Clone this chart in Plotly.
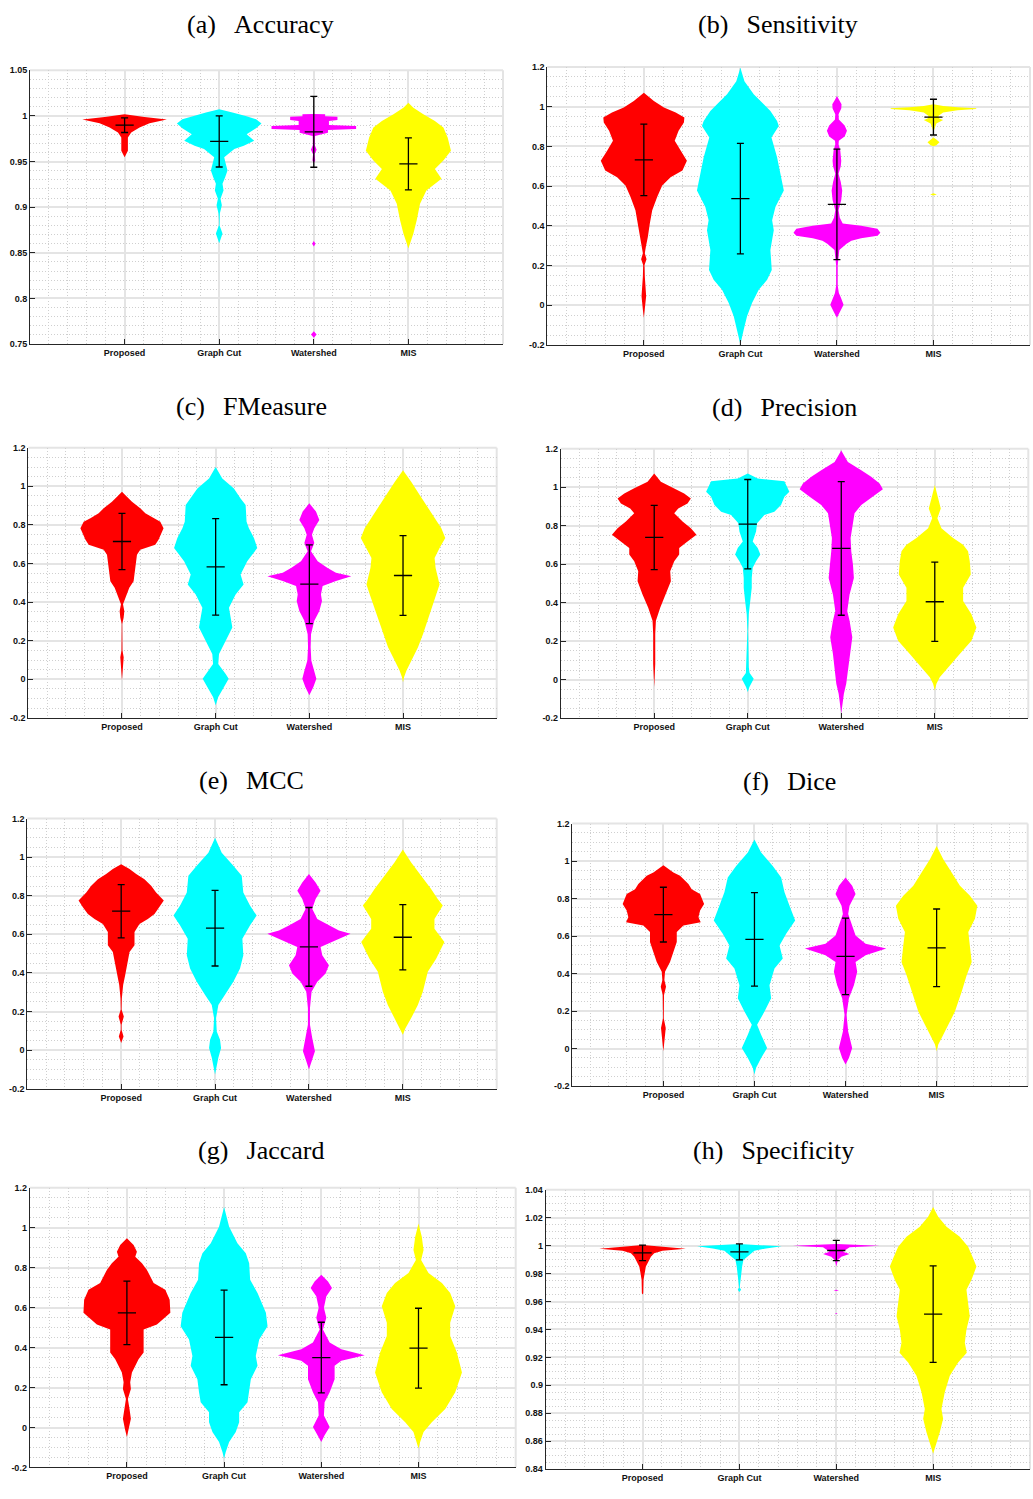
import plotly.graph_objects as go

W, H = 1033, 1499

categories = ["Proposed", "Graph Cut", "Watershed", "MIS"]
colors = ["#ff0000", "#00ffff", "#ff00ff", "#ffff00"]

# ---------------- (a) Accuracy ----------------
a_prop_y = [0.9546, 0.9618, 0.969, 0.9764, 0.9818, 0.9872, 0.992, 0.996, 0.9989, 1.0017]
a_prop_w = [0.0, 0.035, 0.035, 0.035, 0.07, 0.158, 0.264, 0.447, 0.21, 0.0]
a_gc_y = [0.8603, 0.8712, 0.8802, 0.8857, 0.8929, 0.9020, 0.9092, 0.9183, 0.9256, 0.9328, 0.9401, 0.9473,
          0.9546, 0.9637, 0.9673, 0.9727, 0.9800, 0.9865, 0.9916, 0.9963, 0.9999, 1.0036, 1.0072]
a_gc_w = [0.0, 0.035, 0.003, 0.003, 0.007, 0.028, 0.014, 0.046, 0.035, 0.063, 0.088, 0.07,
          0.053, 0.16, 0.26, 0.37, 0.29, 0.39, 0.447, 0.39, 0.28, 0.14, 0.0]
a_ws_y = [0.757, 0.7605, 0.764, 0.857, 0.860, 0.863, 0.948, 0.951, 0.958, 0.963, 0.968, 0.978,
          0.9815, 0.9845, 0.9855, 0.9890, 0.9900, 0.9945, 0.9955, 0.9990, 0.9995, 1.0017, 1.0020]
a_ws_w = [0.0, 0.03, 0.0, 0.0, 0.018, 0.0, 0.0, 0.015, 0.008, 0.03, 0.01, 0.012,
          0.15, 0.15, 0.447, 0.447, 0.16, 0.16, 0.25, 0.25, 0.12, 0.12, 0.0]
a_mis_y = [0.8548, 0.8603, 0.8712, 0.8857, 0.9038, 0.9183, 0.931, 0.9419, 0.951, 0.9618, 0.9764,
           0.9872, 0.9945, 1.0017, 1.009, 1.0144]
a_mis_w = [0.0, 0.018, 0.053, 0.088, 0.123, 0.19, 0.35, 0.28, 0.37, 0.45, 0.415,
           0.37, 0.28, 0.158, 0.053, 0.0]
a_mean = [0.9898, 0.972, 0.9825, 0.9475]
a_std = [0.008, 0.028, 0.0388, 0.0285]

# ---------------- (b) Sensitivity ----------------
b_prop_y = [-0.063, -0.022, 0.045, 0.145, 0.203, 0.232, 0.262, 0.295, 0.345, 0.412, 0.478, 0.545, 0.603,
            0.645, 0.678, 0.728, 0.778, 0.828, 0.878, 0.92, 0.945, 0.97, 0.995, 1.028, 1.07]
b_prop_w = [0.0, 0.01, 0.024, 0.01, 0.007, 0.028, 0.01, 0.021, 0.042, 0.062, 0.087, 0.138, 0.19,
            0.277, 0.40, 0.446, 0.38, 0.32, 0.36, 0.415, 0.42, 0.33, 0.208, 0.104, 0.0]
b_gc_y = [-0.197, -0.172, -0.122, -0.055, 0.012, 0.078, 0.128, 0.178, 0.278, 0.378, 0.428, 0.495, 0.578,
          0.678, 0.745, 0.845, 0.903, 0.928, 0.978, 1.012, 1.062, 1.128, 1.195]
b_gc_w = [0.0, 0.01, 0.035, 0.069, 0.121, 0.19, 0.277, 0.325, 0.311, 0.346, 0.329, 0.363, 0.45,
          0.408, 0.38, 0.322, 0.398, 0.38, 0.311, 0.242, 0.138, 0.042, 0.0]
b_ws_y = [-0.063, -0.038, 0.003, 0.04, 0.062, 0.1, 0.2, 0.278, 0.29, 0.31, 0.325, 0.338, 0.35, 0.365,
          0.385, 0.40, 0.412, 0.44, 0.478, 0.53, 0.578, 0.62, 0.662, 0.70, 0.728, 0.778, 0.81, 0.828,
          0.85, 0.878, 0.905, 0.935, 0.962, 0.99, 1.012, 1.035, 1.053]
b_ws_w = [0.0, 0.028, 0.069, 0.04, 0.02, 0.008, 0.008, 0.025, 0.05, 0.1, 0.15, 0.25, 0.42, 0.45,
          0.42, 0.25, 0.06, 0.03, 0.017, 0.045, 0.055, 0.04, 0.017, 0.04, 0.045, 0.035, 0.017, 0.02,
          0.08, 0.104, 0.08, 0.02, 0.017, 0.045, 0.048, 0.02, 0.0]
b_mis_y = [0.552, 0.558, 0.564, 0.80, 0.805, 0.82, 0.835, 0.845, 0.88, 0.895, 0.915, 0.925, 0.932,
           0.94, 0.953, 0.97, 0.982, 0.988, 0.992, 0.997, 1.003, 1.012]
b_mis_w = [0.0, 0.035, 0.0, 0.0, 0.03, 0.062, 0.03, 0.0, 0.005, 0.015, 0.03, 0.07, 0.1,
           0.06, 0.05, 0.1, 0.25, 0.443, 0.443, 0.25, 0.1, 0.0]
b_mean = [0.732, 0.537, 0.508, 0.947]
b_std = [0.18, 0.278, 0.278, 0.09]

# ---------------- (c) FMeasure ----------------
c_prop_y = [-0.006, 0.028, 0.114, 0.15, 0.2, 0.286, 0.32, 0.354, 0.389, 0.423, 0.474, 0.508, 0.577,
            0.646, 0.672, 0.697, 0.723, 0.757, 0.783, 0.817, 0.835, 0.86, 0.886, 0.92, 0.946, 0.972]
c_prop_w = [0.0, 0.007, 0.018, 0.005, 0.002, 0.003, 0.018, 0.025, 0.011, 0.036, 0.078, 0.124, 0.142,
            0.16, 0.195, 0.355, 0.39, 0.42, 0.444, 0.409, 0.337, 0.249, 0.195, 0.107, 0.053, 0.0]
c_gc_y = [-0.135, -0.092, -0.04, 0.003, 0.028, 0.08, 0.131, 0.2, 0.268, 0.32, 0.371, 0.44, 0.491,
          0.543, 0.612, 0.68, 0.732, 0.783, 0.817, 0.903, 0.937, 0.989, 1.04, 1.1]
c_gc_w = [0.0, 0.028, 0.089, 0.139, 0.107, 0.028, 0.036, 0.107, 0.178, 0.16, 0.142, 0.213, 0.298,
          0.266, 0.337, 0.444, 0.409, 0.355, 0.33, 0.32, 0.266, 0.195, 0.071, 0.0]
c_ws_y = [-0.083, -0.04, 0.003, 0.045, 0.097, 0.166, 0.234, 0.303, 0.354, 0.406, 0.44, 0.483, 0.509,
          0.534, 0.552, 0.577, 0.612, 0.663, 0.706, 0.749, 0.783, 0.826, 0.869, 0.912]
c_ws_w = [0.0, 0.043, 0.075, 0.053, 0.021, 0.014, 0.018, 0.053, 0.107, 0.135, 0.124, 0.142, 0.284,
          0.448, 0.284, 0.195, 0.089, 0.018, 0.053, 0.028, 0.053, 0.107, 0.071, 0.0]
c_mis_y = [-0.015, 0.011, 0.045, 0.097, 0.166, 0.234, 0.337, 0.44, 0.491, 0.577, 0.629, 0.68, 0.732,
           0.783, 0.835, 0.886, 0.955, 1.023, 1.083]
c_mis_w = [0.0, 0.011, 0.036, 0.089, 0.16, 0.213, 0.284, 0.355, 0.39, 0.348, 0.337, 0.39, 0.451,
           0.409, 0.337, 0.266, 0.178, 0.089, 0.0]
c_mean = [0.714, 0.583, 0.493, 0.538]
c_std = [0.146, 0.25, 0.204, 0.207]

# ---------------- (d) Precision ----------------
d_prop_y = [-0.038, -0.004, 0.082, 0.237, 0.306, 0.374, 0.443, 0.512, 0.564, 0.615, 0.65, 0.684, 0.718,
            0.753, 0.787, 0.822, 0.865, 0.89, 0.916, 0.942, 0.968, 0.994, 1.028, 1.071]
d_prop_w = [0.0, 0.004, 0.011, 0.011, 0.018, 0.064, 0.125, 0.178, 0.171, 0.214, 0.267, 0.267, 0.356,
            0.452, 0.392, 0.303, 0.214, 0.257, 0.356, 0.392, 0.32, 0.214, 0.071, 0.0]
d_gc_y = [-0.064, -0.038, 0.005, 0.035, 0.065, 0.254, 0.34, 0.409, 0.478, 0.529, 0.581, 0.615, 0.65,
          0.684, 0.718, 0.77, 0.813, 0.856, 0.873, 0.908, 0.951, 0.976, 1.031, 1.045, 1.071]
d_gc_w = [0.0, 0.018, 0.064, 0.02, 0.011, 0.004, 0.011, 0.028, 0.043, 0.043, 0.053, 0.089, 0.135,
          0.107, 0.053, 0.089, 0.1, 0.178, 0.285, 0.356, 0.392, 0.445, 0.392, 0.107, 0.0]
d_ws_y = [-0.176, -0.142, -0.073, -0.021, 0.048, 0.134, 0.22, 0.306, 0.357, 0.443, 0.529, 0.598, 0.667,
          0.736, 0.804, 0.865, 0.908, 0.951, 0.99, 1.019, 1.054, 1.088, 1.131, 1.191]
d_ws_w = [0.0, 0.011, 0.028, 0.053, 0.071, 0.089, 0.118, 0.089, 0.064, 0.089, 0.135, 0.125, 0.107,
          0.1, 0.125, 0.142, 0.214, 0.338, 0.445, 0.41, 0.32, 0.214, 0.071, 0.0]
d_mis_y = [-0.056, -0.021, 0.013, 0.065, 0.134, 0.202, 0.271, 0.34, 0.409, 0.478, 0.546, 0.615, 0.667,
           0.701, 0.736, 0.787, 0.839, 0.89, 0.942, 1.011]
d_mis_w = [0.0, 0.018, 0.053, 0.142, 0.267, 0.392, 0.445, 0.392, 0.303, 0.303, 0.385, 0.374, 0.356,
           0.303, 0.196, 0.071, 0.028, 0.064, 0.036, 0.0]
d_mean = [0.739, 0.808, 0.682, 0.405]
d_std = [0.167, 0.232, 0.347, 0.206]

# ---------------- (e) MCC ----------------
e_prop_y = [0.037, 0.071, 0.105, 0.131, 0.174, 0.21, 0.268, 0.337, 0.389, 0.44, 0.509, 0.543, 0.612,
            0.654, 0.68, 0.706, 0.74, 0.775, 0.817, 0.852, 0.886, 0.912, 0.938, 0.963]
e_prop_w = [0.0, 0.025, 0.004, 0.004, 0.028, 0.004, 0.007, 0.021, 0.043, 0.064, 0.089, 0.142, 0.142,
            0.195, 0.284, 0.355, 0.408, 0.454, 0.372, 0.319, 0.248, 0.16, 0.089, 0.0]
e_gc_y = [-0.126, -0.092, -0.04, 0.011, 0.054, 0.097, 0.166, 0.234, 0.286, 0.354, 0.423, 0.491, 0.577,
          0.646, 0.697, 0.749, 0.817, 0.903, 0.955, 1.023, 1.1]
e_gc_w = [0.0, 0.011, 0.035, 0.064, 0.053, 0.018, 0.011, 0.035, 0.106, 0.195, 0.266, 0.301, 0.291,
          0.372, 0.443, 0.372, 0.301, 0.284, 0.195, 0.071, 0.0]
e_ws_y = [-0.1, -0.058, -0.006, 0.063, 0.131, 0.217, 0.303, 0.354, 0.397, 0.44, 0.491, 0.534, 0.569,
          0.603, 0.62, 0.646, 0.68, 0.732, 0.783, 0.826, 0.869, 0.912]
e_ws_w = [0.0, 0.028, 0.064, 0.035, 0.011, 0.011, 0.028, 0.089, 0.177, 0.213, 0.142, 0.124, 0.284,
          0.443, 0.319, 0.213, 0.089, 0.035, 0.071, 0.124, 0.071, 0.0]
e_mis_y = [0.08, 0.114, 0.166, 0.234, 0.303, 0.406, 0.474, 0.56, 0.629, 0.68, 0.749, 0.783, 0.835,
           0.903, 0.972, 1.04]
e_mis_w = [0.0, 0.028, 0.089, 0.16, 0.213, 0.266, 0.355, 0.443, 0.337, 0.337, 0.426, 0.372, 0.301,
           0.195, 0.089, 0.0]
e_mean = [0.72, 0.632, 0.535, 0.585]
e_std = [0.138, 0.196, 0.204, 0.169]

# ---------------- (f) Dice ----------------
f_prop_y = [-0.015, 0.038, 0.109, 0.162, 0.285, 0.33, 0.365, 0.409, 0.462, 0.515, 0.568, 0.621, 0.656,
            0.674, 0.7, 0.736, 0.771, 0.824, 0.85, 0.877, 0.921, 0.939, 0.978]
f_prop_w = [0.0, 0.011, 0.026, 0.004, 0.007, 0.029, 0.011, 0.018, 0.073, 0.11, 0.147, 0.147, 0.22,
            0.41, 0.385, 0.403, 0.447, 0.403, 0.311, 0.275, 0.183, 0.11, 0.0]
f_gc_y = [-0.138, -0.103, -0.05, 0.003, 0.074, 0.127, 0.197, 0.268, 0.338, 0.427, 0.48, 0.55, 0.612,
          0.683, 0.762, 0.833, 0.912, 0.974, 1.045, 1.115]
f_gc_w = [0.0, 0.018, 0.073, 0.139, 0.073, 0.029, 0.11, 0.183, 0.165, 0.22, 0.311, 0.275, 0.348,
          0.447, 0.385, 0.33, 0.293, 0.201, 0.073, 0.0]
f_ws_y = [-0.085, -0.05, 0.003, 0.091, 0.18, 0.268, 0.338, 0.409, 0.462, 0.497, 0.533, 0.559, 0.603,
          0.656, 0.718, 0.762, 0.824, 0.868, 0.912]
f_ws_w = [0.0, 0.037, 0.073, 0.029, 0.011, 0.037, 0.092, 0.128, 0.11, 0.22, 0.447, 0.22, 0.11,
          0.073, 0.029, 0.044, 0.11, 0.073, 0.0]
f_mis_y = [-0.015, 0.021, 0.056, 0.127, 0.197, 0.303, 0.391, 0.462, 0.55, 0.621, 0.692, 0.762, 0.815,
           0.868, 0.939, 1.009, 1.08]
f_mis_w = [0.0, 0.018, 0.055, 0.128, 0.201, 0.275, 0.33, 0.385, 0.366, 0.348, 0.421, 0.447, 0.366,
           0.256, 0.165, 0.073, 0.0]
f_mean = [0.714, 0.582, 0.491, 0.537]
f_std = [0.146, 0.249, 0.204, 0.207]

# ---------------- (g) Jaccard ----------------
g_prop_y = [-0.048, -0.006, 0.044, 0.093, 0.143, 0.193, 0.226, 0.276, 0.342, 0.375, 0.441, 0.491, 0.516,
            0.574, 0.64, 0.69, 0.723, 0.789, 0.822, 0.855, 0.88, 0.913, 0.947]
g_prop_w = [0.0, 0.021, 0.041, 0.027, 0.01, 0.041, 0.034, 0.052, 0.12, 0.172, 0.172, 0.172, 0.309,
            0.447, 0.44, 0.395, 0.275, 0.206, 0.155, 0.086, 0.103, 0.069, 0.0]
g_gc_y = [-0.155, -0.122, -0.072, -0.023, 0.027, 0.077, 0.126, 0.176, 0.242, 0.309, 0.358, 0.441, 0.507,
          0.574, 0.673, 0.739, 0.822, 0.872, 0.922, 1.005, 1.104]
g_gc_w = [0.0, 0.017, 0.052, 0.12, 0.155, 0.155, 0.241, 0.258, 0.275, 0.344, 0.326, 0.361, 0.447,
          0.43, 0.344, 0.268, 0.258, 0.223, 0.137, 0.052, 0.0]
g_ws_y = [-0.072, -0.039, 0.002, 0.06, 0.126, 0.176, 0.242, 0.309, 0.334, 0.362, 0.392, 0.425, 0.491,
          0.549, 0.599, 0.657, 0.698, 0.731, 0.764]
g_ws_w = [0.0, 0.034, 0.086, 0.027, 0.034, 0.086, 0.137, 0.137, 0.206, 0.447, 0.206, 0.086, 0.017,
          0.052, 0.027, 0.052, 0.11, 0.069, 0.0]
g_mis_y = [-0.105, -0.072, -0.023, 0.027, 0.093, 0.176, 0.276, 0.375, 0.458, 0.524, 0.607, 0.673, 0.723,
           0.773, 0.839, 0.889, 0.955, 1.021]
g_mis_w = [0.0, 0.017, 0.052, 0.137, 0.275, 0.378, 0.447, 0.395, 0.326, 0.326, 0.378, 0.326, 0.241,
           0.103, 0.027, 0.052, 0.034, 0.0]
g_mean = [0.574, 0.451, 0.35, 0.397]
g_std = [0.159, 0.237, 0.177, 0.2]

# ---------------- (h) Specificity ----------------
h_prop_y = [0.965, 0.966, 0.9755, 0.9803, 0.985, 0.9898, 0.9921, 0.9945, 0.9964, 0.9978, 0.9992, 1.0004]
h_prop_w = [0.0, 0.007, 0.01, 0.021, 0.034, 0.069, 0.086, 0.12, 0.206, 0.447, 0.206, 0.0]
h_gc_y = [0.9668, 0.9684, 0.97, 0.9732, 0.9779, 0.985, 0.9898, 0.9933, 0.9964, 0.998, 0.9995, 1.0011]
h_gc_w = [0.0, 0.017, 0.003, 0.007, 0.017, 0.028, 0.041, 0.103, 0.155, 0.275, 0.437, 0.0]
h_ws_y = [0.951, 0.9514, 0.9518, 0.9675, 0.968, 0.9685, 0.985, 0.9874, 0.9898, 0.9921, 0.994, 0.9957,
          0.9988, 0.99995, 1.0011]
h_ws_w = [0.0, 0.014, 0.0, 0.0, 0.028, 0.0, 0.0, 0.007, 0.017, 0.052, 0.137, 0.069,
          0.137, 0.447, 0.0]
h_mis_y = [0.851, 0.857, 0.8665, 0.876, 0.8831, 0.895, 0.9068, 0.9163, 0.9234, 0.9305, 0.94, 0.9495,
           0.959, 0.9684, 0.9755, 0.985, 0.9921, 0.9992, 1.0064, 1.0135, 1.0206, 1.0277]
h_mis_w = [0.0, 0.028, 0.069, 0.103, 0.086, 0.12, 0.172, 0.258, 0.347, 0.327, 0.344, 0.378,
           0.361, 0.344, 0.396, 0.447, 0.406, 0.361, 0.275, 0.138, 0.052, 0.0]
h_mean = [0.9948, 0.9955, 0.9965, 0.951]
h_std = [0.0055, 0.0057, 0.0072, 0.0345]

# ---------------- tick labels ----------------
acc_ticks = [0.75, 0.8, 0.85, 0.9, 0.95, 1.0, 1.05]
acc_ticktext = ["0.75", "0.8", "0.85", "0.9", "0.95", "1", "1.05"]
std_ticks = [-0.2, 0.0, 0.2, 0.4, 0.6, 0.8, 1.0, 1.2]
std_ticktext = ["-0.2", "0", "0.2", "0.4", "0.6", "0.8", "1", "1.2"]
spec_ticks = [0.84, 0.86, 0.88, 0.9, 0.92, 0.94, 0.96, 0.98, 1.0, 1.02, 1.04]
spec_ticktext = ["0.84", "0.86", "0.88", "0.9", "0.92", "0.94", "0.96", "0.98", "1", "1.02", "1.04"]

SEP = "\u2002\u2009"
panels = [
    dict(title="(a)" + SEP + "Accuracy", ys=[a_prop_y, a_gc_y, a_ws_y, a_mis_y], ws=[a_prop_w, a_gc_w, a_ws_w, a_mis_w],
         mean=a_mean, std=a_std, tv=acc_ticks, tt=acc_ticktext, yr=[0.75, 1.05], minor=0.01,
         box=(30, 503, 65.7, 341.3), tpos=(260, 24)),
    dict(title="(b)" + SEP + "Sensitivity", ys=[b_prop_y, b_gc_y, b_ws_y, b_mis_y], ws=[b_prop_w, b_gc_w, b_ws_w, b_mis_w],
         mean=b_mean, std=b_std, tv=std_ticks, tt=std_ticktext, yr=[-0.2, 1.2], minor=0.05,
         box=(547.3, 1030, 62.3, 342.3), tpos=(778, 24)),
    dict(title="(c)" + SEP + "FMeasure", ys=[c_prop_y, c_gc_y, c_ws_y, c_mis_y], ws=[c_prop_w, c_gc_w, c_ws_w, c_mis_w],
         mean=c_mean, std=c_std, tv=std_ticks, tt=std_ticktext, yr=[-0.2, 1.2], minor=0.05,
         box=(28.3, 496.7, 445.7, 717.7), tpos=(251, 408)),
    dict(title="(d)" + SEP + "Precision", ys=[d_prop_y, d_gc_y, d_ws_y, d_mis_y], ws=[d_prop_w, d_gc_w, d_ws_w, d_mis_w],
         mean=d_mean, std=d_std, tv=std_ticks, tt=std_ticktext, yr=[-0.2, 1.2], minor=0.05,
         box=(560.7, 1028.3, 446.7, 718), tpos=(784, 409)),
    dict(title="(e)" + SEP + "MCC", ys=[e_prop_y, e_gc_y, e_ws_y, e_mis_y], ws=[e_prop_w, e_gc_w, e_ws_w, e_mis_w],
         mean=e_mean, std=e_std, tv=std_ticks, tt=std_ticktext, yr=[-0.2, 1.2], minor=0.05,
         box=(27.3, 496.7, 819, 1091), tpos=(251, 785)),
    dict(title="(f)" + SEP + "Dice", ys=[f_prop_y, f_gc_y, f_ws_y, f_mis_y], ws=[f_prop_w, f_gc_w, f_ws_w, f_mis_w],
         mean=f_mean, std=f_std, tv=std_ticks, tt=std_ticktext, yr=[-0.2, 1.2], minor=0.05,
         box=(572.3, 1027.7, 824, 1088.3), tpos=(789, 786)),
    dict(title="(g)" + SEP + "Jaccard", ys=[g_prop_y, g_gc_y, g_ws_y, g_mis_y], ws=[g_prop_w, g_gc_w, g_ws_w, g_mis_w],
         mean=g_mean, std=g_std, tv=std_ticks, tt=std_ticktext, yr=[-0.2, 1.2], minor=0.05,
         box=(29.7, 515.7, 1190.7, 1472.3), tpos=(261, 1157)),
    dict(title="(h)" + SEP + "Specificity", ys=[h_prop_y, h_gc_y, h_ws_y, h_mis_y], ws=[h_prop_w, h_gc_w, h_ws_w, h_mis_w],
         mean=h_mean, std=h_std, tv=spec_ticks, tt=spec_ticktext, yr=[0.84, 1.04], minor=0.005,
         box=(545.7, 1030, 1192.7, 1474), tpos=(773, 1157)),
]

AXIS_DARK = "#262626"
GRID_MAJOR = "#e4e4e4"
GRID_MINOR = "#cfcfcf"
tickfont = dict(family="Liberation Sans, Arial, sans-serif", size=9, color="#111111", weight="bold")


def fx(px):
    return min(max(px / W, 0.0), 1.0)


def fy(py):
    return min(max(1 - py / H, 0.0), 1.0)


fig = go.Figure()
layout = dict(width=W, height=H, margin=dict(l=0, r=0, t=0, b=0), paper_bgcolor="white",
              plot_bgcolor="white", showlegend=False, annotations=[], shapes=[])

for i, p in enumerate(panels, start=1):
    xa = "x" if i == 1 else f"x{i}"
    ya = "y" if i == 1 else f"y{i}"
    l, r, t, b = p["box"]
    for k in range(4):
        yv = p["ys"][k]
        wv = p["ws"][k]
        pos = k + 1
        xs = [pos + w for w in wv] + [pos - w for w in reversed(wv)]
        ys = list(yv) + list(reversed(yv))
        fig.add_trace(go.Scatter(x=xs, y=ys, mode="lines", fill="toself", fillcolor=colors[k],
                                 line=dict(width=0, color=colors[k]), hoverinfo="skip",
                                 xaxis=xa, yaxis=ya))
    fig.add_trace(go.Scatter(x=[1, 2, 3, 4], y=p["mean"], mode="markers",
                             marker=dict(symbol="line-ew", size=13, color="black",
                                         line=dict(width=1.3, color="black")),
                             error_y=dict(type="data", array=p["std"], visible=True, color="black",
                                          thickness=1.3, width=3.5),
                             hoverinfo="skip", xaxis=xa, yaxis=ya))
    xkey = "xaxis" if i == 1 else f"xaxis{i}"
    ykey = "yaxis" if i == 1 else f"yaxis{i}"
    layout[xkey] = dict(domain=[fx(l), fx(r)], range=[0, 5], anchor=ya,
                        tickmode="array", tickvals=[1, 2, 3, 4], ticktext=categories,
                        showgrid=True, gridcolor=GRID_MAJOR, gridwidth=2,
                        minor=dict(tick0=0, dtick=0.2, showgrid=True, gridcolor=GRID_MINOR,
                                   griddash="1px,2px", gridwidth=1),
                        showline=True, linecolor=AXIS_DARK, linewidth=1,
                        ticks="inside", ticklen=5, tickcolor=AXIS_DARK, tickfont=tickfont,
                        zeroline=False, fixedrange=True)
    layout[ykey] = dict(domain=[fy(b), fy(t)], range=p["yr"], anchor=xa,
                        tickmode="array", tickvals=p["tv"], ticktext=p["tt"],
                        showgrid=True, gridcolor=GRID_MAJOR, gridwidth=2,
                        minor=dict(tick0=p["yr"][0], dtick=p["minor"], showgrid=True, gridcolor=GRID_MINOR,
                                   griddash="1px,2px", gridwidth=1),
                        showline=True, linecolor=AXIS_DARK, linewidth=1,
                        ticks="inside", ticklen=5, tickcolor=AXIS_DARK, tickfont=tickfont,
                        zeroline=False, fixedrange=True)
    layout["shapes"].append(dict(type="line", xref=f"{xa} domain", yref=f"{ya} domain",
                                 x0=0, x1=1, y0=1, y1=1, line=dict(color=GRID_MAJOR, width=2), layer="below"))
    layout["shapes"].append(dict(type="line", xref=f"{xa} domain", yref=f"{ya} domain",
                                 x0=1, x1=1, y0=0, y1=1, line=dict(color=GRID_MAJOR, width=2), layer="below"))
    tx, ty = p["tpos"]
    layout["annotations"].append(dict(text=p["title"], xref="paper", yref="paper", x=fx(tx), y=fy(ty - 4),
                                      xanchor="center", yanchor="middle", showarrow=False,
                                      font=dict(family="Liberation Serif, DejaVu Serif, serif", size=26,
                                                color="black")))

fig.update_layout(**layout)
fig.write_html("out.html", config={"displayModeBar": False},
               post_script="document.body.style.margin='0';document.body.style.overflow='hidden';")
